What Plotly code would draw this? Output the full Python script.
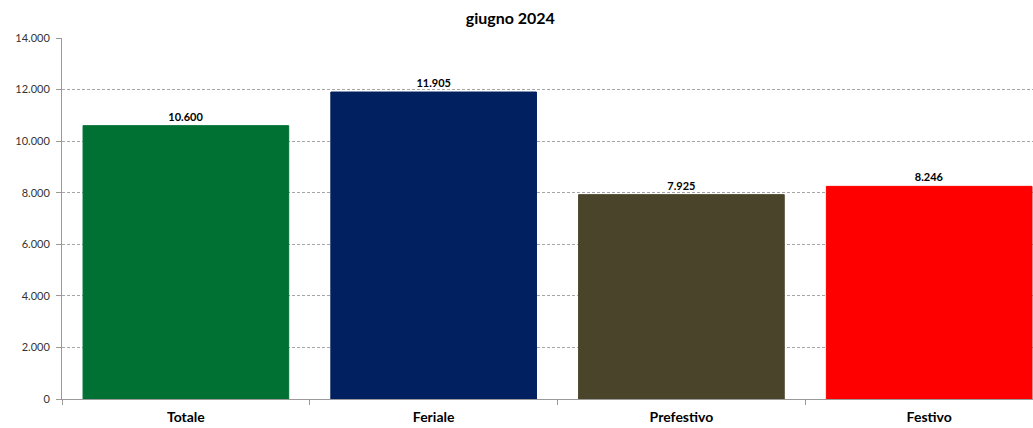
import plotly.graph_objects as go

categories = ["Totale", "Feriale", "Prefestivo", "Festivo"]
values = [10600, 11905, 7925, 8246]
colors = ["#007033", "#002060", "#4A452A", "#FF0000"]
y_ticks = [0, 2000, 4000, 6000, 8000, 10000, 12000, 14000]
y_tick_labels = ["0", "2.000", "4.000", "6.000", "8.000", "10.000", "12.000", "14.000"]
title = "giugno 2024"

fig = go.Figure(go.Bar(
    x=categories, y=values,
    marker=dict(color=colors, line=dict(color=colors, width=1)),
    width=0.83,
    text=[f"{v:,}".replace(",", ".") for v in values],
    textposition="outside",
    textfont=dict(family="Lato", size=11, color="black", weight="bold"),
    cliponaxis=False,
))

fig.update_layout(
    width=1033, height=428,
    margin=dict(l=62, r=0, t=38, b=29, autoexpand=False),
    paper_bgcolor="white", plot_bgcolor="white",
    title=dict(text="<b>" + title + "</b>", x=0.494, xanchor="center", y=0.958, yanchor="middle",
               font=dict(family="Lato", size=16, color="black")),
    showlegend=False,
    separators=",.",
)
fig.update_xaxes(
    range=[-0.5, 3.419], automargin=False,
    showline=True, linecolor="#9a9a9a", linewidth=1,
    ticks="outside", tickson="boundaries", ticklen=5, tickcolor="#9a9a9a",
    ticklabelstandoff=5,
    tickfont=dict(family="Lato", size=14, color="black", weight="bold"),
    showgrid=False,
)
fig.update_yaxes(
    range=[0, 14000], automargin=False,
    tickvals=y_ticks, ticktext=y_tick_labels,
    showline=True, linecolor="#9a9a9a", linewidth=1,
    ticks="outside", ticklen=5, tickcolor="#9a9a9a", ticklabelstandoff=4,
    tickfont=dict(family="Lato", size=11, color="#333333"),
    showgrid=True, gridcolor="#a6a6a6", griddash="3px,2px", gridwidth=1,
    zeroline=False,
)

fig.write_html(
    "out.html",
    config={"displayModeBar": False},
    post_script="document.body.style.margin='0';document.body.style.overflow='hidden';",
)
